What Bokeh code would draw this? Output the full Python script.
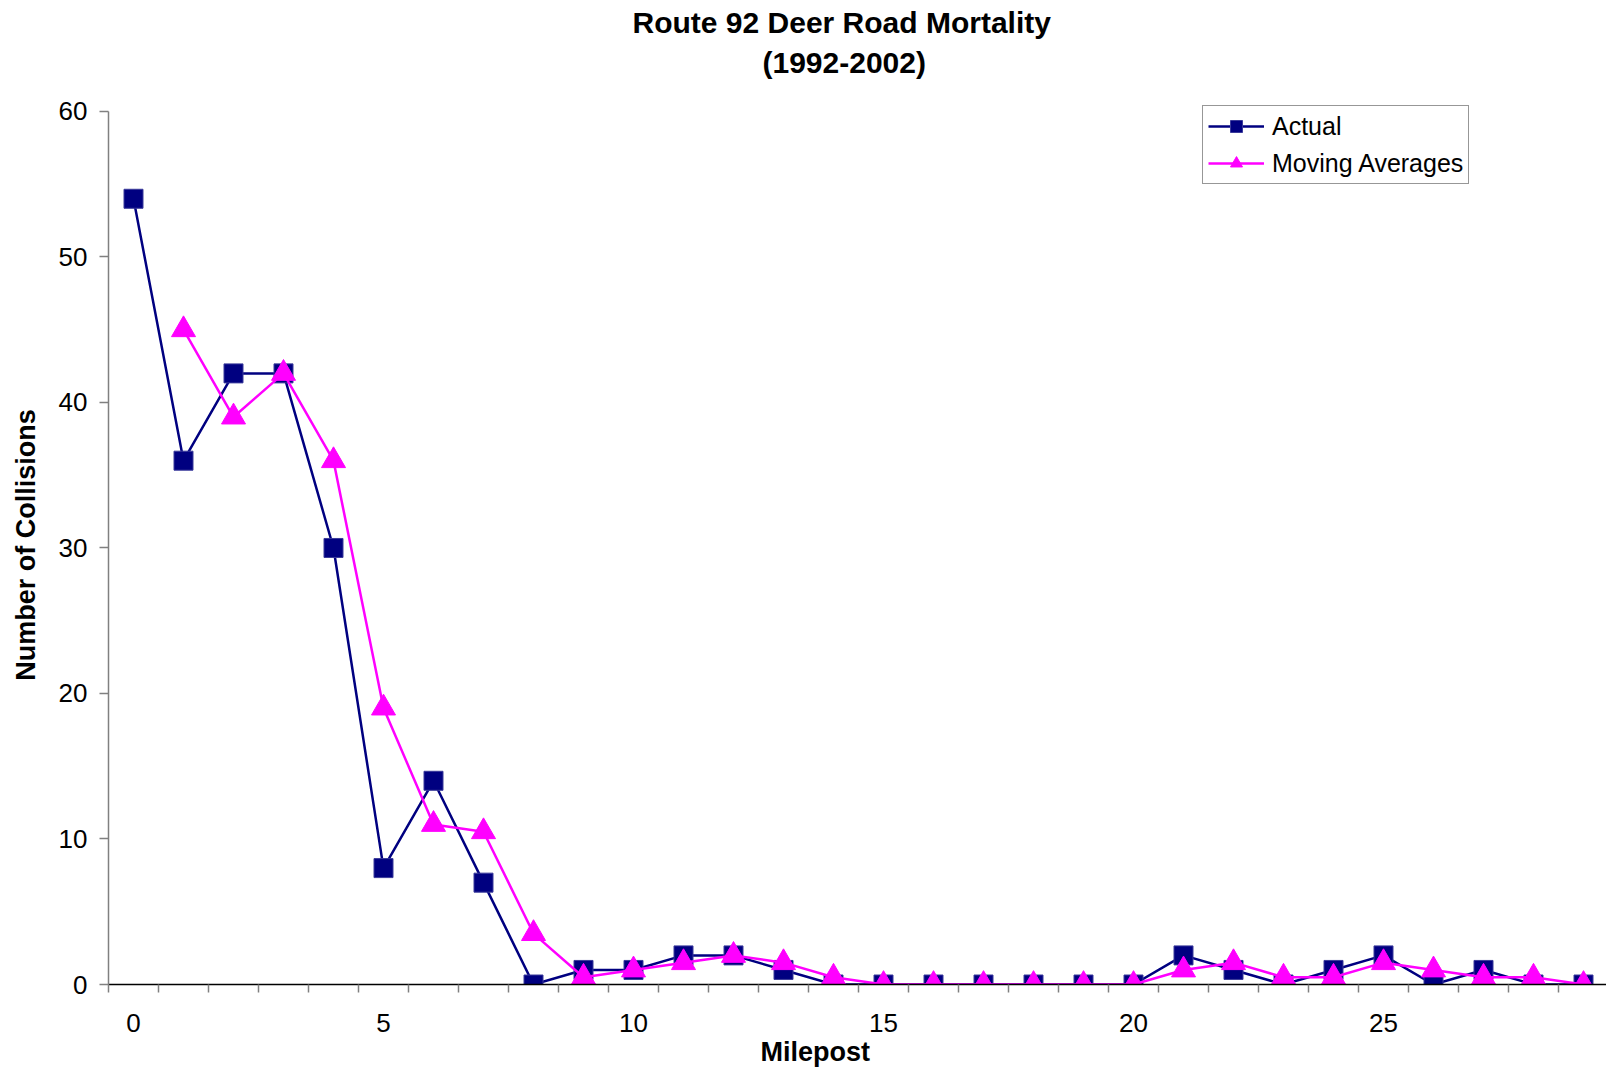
from bokeh.plotting import figure
from bokeh.models import Range1d, FixedTicker, Legend, LegendItem, Title
from bokeh.embed import file_html
from bokeh.resources import INLINE

# ---- data ----
milepost = list(range(30))
actual = [54, 36, 42, 42, 30, 8, 14, 7, 0, 1, 1, 2, 2, 1, 0, 0, 0, 0, 0, 0,
          0, 2, 1, 0, 1, 2, 0, 1, 0, 0]
ma_milepost = list(range(1, 30))
moving_avg = [45, 39, 42, 36, 19, 11, 10.5, 3.5, 0.5, 1, 1.5, 2, 1.5, 0.5, 0,
              0, 0, 0, 0, 0, 1, 1.5, 0.5, 0.5, 1.5, 1, 0.5, 0.5, 0]
x_tick_values = [0, 5, 10, 15, 20, 25]
y_tick_values = [0, 10, 20, 30, 40, 50, 60]

title_line1 = "Route 92 Deer Road Mortality"
title_line2 = "(1992-2002)"
x_title = "Milepost"
y_title = "Number of Collisions"

FONT = "Liberation Sans"
NAVY = "#000080"
MAGENTA = "#FF00FF"

p = figure(width=1606, height=1072, output_backend="svg", toolbar_location=None,
           x_range=Range1d(-0.5, 29.46), y_range=Range1d(0, 60.41),
           min_border_left=108, min_border_right=0, min_border_top=105,
           min_border_bottom=88)
p.outline_line_color = None
p.xgrid.grid_line_color = None
p.ygrid.grid_line_color = None
p.background_fill_color = "white"
p.border_fill_color = "white"

# titles (line 2 added first so that it sits closest to the plot)
p.add_layout(Title(text=title_line2, text_font=FONT, text_font_size="30px",
                   text_font_style="bold", text_color="black",
                   align="left", offset=654, standoff=54), "above")
p.add_layout(Title(text=title_line1, text_font=FONT, text_font_size="30px",
                   text_font_style="bold", text_color="black",
                   align="left", offset=524, standoff=-45), "above")

# x axis (category style: ticks between categories)
xa = p.xaxis[0]
xa.ticker = FixedTicker(ticks=x_tick_values,
                        minor_ticks=[i - 0.5 for i in range(31)])
xa.axis_line_color = "black"
xa.axis_line_width = 1.5
xa.major_tick_line_color = None
xa.minor_tick_line_color = "#808080"
xa.minor_tick_line_width = 1.5
xa.minor_tick_out = 8
xa.minor_tick_in = 0
xa.major_tick_out = 8
xa.major_tick_in = 0
xa.major_label_standoff = 21
xa.major_label_text_font = FONT
xa.major_label_text_font_size = "26px"
xa.major_label_text_color = "black"

# x axis title placed below the axis, left-aligned with an offset
p.add_layout(Title(text=x_title, text_font=FONT, text_font_size="27px",
                   text_font_style="bold", text_color="black",
                   align="left", offset=652, standoff=0), "below")

ya = p.yaxis[0]
ya.ticker = FixedTicker(ticks=y_tick_values, minor_ticks=[])
ya.bounds = (0, 60)
ya.axis_line_color = "#808080"
ya.axis_line_width = 1.5
ya.major_tick_line_color = "#808080"
ya.major_tick_line_width = 1.5
ya.major_tick_out = 9
ya.major_tick_in = 0
ya.minor_tick_line_color = None
ya.major_label_standoff = 12
ya.major_label_text_font = FONT
ya.major_label_text_font_size = "26px"
ya.major_label_text_color = "black"
ya.axis_label = y_title
ya.axis_label_standoff = 15
ya.axis_label_text_font = FONT
ya.axis_label_text_font_size = "27px"
ya.axis_label_text_font_style = "bold"
ya.axis_label_text_color = "black"

# series
l1 = p.line(milepost, actual, line_color=NAVY, line_width=2.5)
s1 = p.scatter(milepost, actual, marker="square", size=19,
               fill_color=NAVY, line_color="#3a3a9a", line_width=1)
l2 = p.line(ma_milepost, moving_avg, line_color=MAGENTA, line_width=2.5)
s2 = p.scatter(ma_milepost, moving_avg, marker="triangle", size=24,
               fill_color=MAGENTA, line_color=MAGENTA, line_width=1)

# legend: location is the bottom-left corner, frame-relative
legend = Legend(items=[LegendItem(label="Actual", renderers=[l1, s1]),
                       LegendItem(label="Moving Averages", renderers=[l2, s2])],
                location=(1094, 800))
legend.border_line_color = "#303030"
legend.border_line_width = 1.5
legend.background_fill_alpha = 1.0
legend.label_text_font = FONT
legend.label_text_font_size = "25px"
legend.label_text_color = "black"
legend.glyph_width = 56
legend.glyph_height = 30
legend.label_height = 30
legend.label_standoff = 8
legend.spacing = 7
legend.padding = 5
legend.margin = 0
p.add_layout(legend, "center")

open("out.html", "w").write(file_html(p, INLINE))
